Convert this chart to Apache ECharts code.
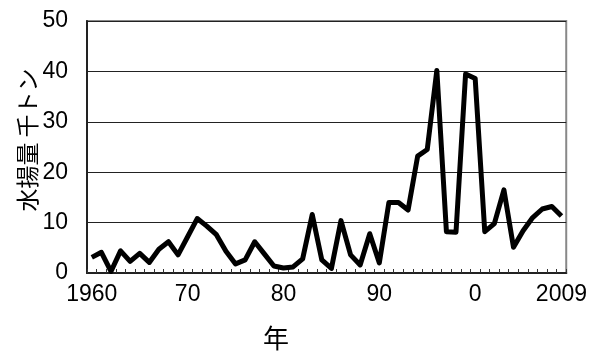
<!DOCTYPE html>
<html>
<head>
<meta charset="utf-8">
<script src="https://cdn.jsdelivr.net/npm/echarts@6/dist/echarts.min.js"></script>
<style>
html,body{margin:0;padding:0;background:#fff;}
#c{width:590px;height:356px;}
</style>
</head>
<body>
<div id="c"></div>
<script>
const years = [];
for (let y = 1960; y <= 2009; y++) years.push(String(y));
const catch_kt = [
  3.1, 4.1, 0.3, 4.4, 2.3, 3.9, 2.1, 4.7, 6.2, 3.6,
  7.2, 10.8, 9.3, 7.6, 4.3, 1.8, 2.6, 6.2, 3.8, 1.4,
  1.0, 1.2, 2.8, 11.6, 2.6, 0.9, 10.4, 3.6, 1.6, 7.8,
  2.0, 14.0, 14.0, 12.5, 23.2, 24.5, 40.2, 8.2, 8.1, 39.5,
  38.6, 8.2, 9.8, 16.5, 5.1, 8.4, 11.0, 12.7, 13.2, 11.3
];
const tickYears = ['1960', '1970', '1980', '1990', '2000', '2009'];
const tickTexts = ['1960', '70', '80', '90', '0', '2009'];
const yTicks = [0, 10, 20, 30, 40, 50];
const xTitle = '年';
const yTitle = '水揚量 千トン';

const numFont = '"Liberation Sans", Arial, sans-serif';
const jpFont = '"Noto Sans CJK JP", sans-serif';

const chart = echarts.init(document.getElementById('c'), null, {renderer: 'canvas'});
chart.setOption({
  animation: false,
  backgroundColor: '#fff',
  grid: {
    left: 87, right: 22, top: 21, bottom: 83,
    show: true, borderColor: '#888', borderWidth: 2, backgroundColor: 'transparent'
  },
  graphic: [
    {type: 'text', x: 276, y: 338,
     style: {text: xTitle, font: '26px ' + jpFont, fill: '#000', align: 'center', verticalAlign: 'middle'}},
    {type: 'text', x: 27, y: 140, rotation: Math.PI / 2,
     style: {text: yTitle, font: '23px ' + jpFont, fill: '#000', align: 'center', verticalAlign: 'middle'}}
  ],
  xAxis: {
    type: 'category',
    data: years,
    boundaryGap: true,
    axisLine: {show: true, lineStyle: {color: '#222', width: 2}},
    axisTick: {show: true, inside: true, length: 4, interval: 0, lineStyle: {color: '#333', width: 1}},
    axisLabel: {
      interval: function (i, v) { return tickYears.indexOf(v) >= 0; },
      formatter: function (v) { const k = tickYears.indexOf(v); return k >= 0 ? tickTexts[k] : ''; },
      fontFamily: numFont, fontSize: 23, color: '#000', margin: 10
    },
    splitLine: {show: false}
  },
  yAxis: {
    type: 'value',
    min: yTicks[0], max: yTicks[yTicks.length - 1], interval: 10,
    axisLine: {show: true, lineStyle: {color: '#222', width: 2}},
    axisTick: {show: false},
    axisLabel: {fontFamily: numFont, fontSize: 23, color: '#000', margin: 19},
    splitLine: {show: true, lineStyle: {color: '#222', width: 1}}
  },
  series: [{
    type: 'line',
    data: catch_kt,
    symbol: 'none',
    lineStyle: {color: '#000', width: 5, join: 'round'},
    z: 3
  }]
});
</script>
</body>
</html>
